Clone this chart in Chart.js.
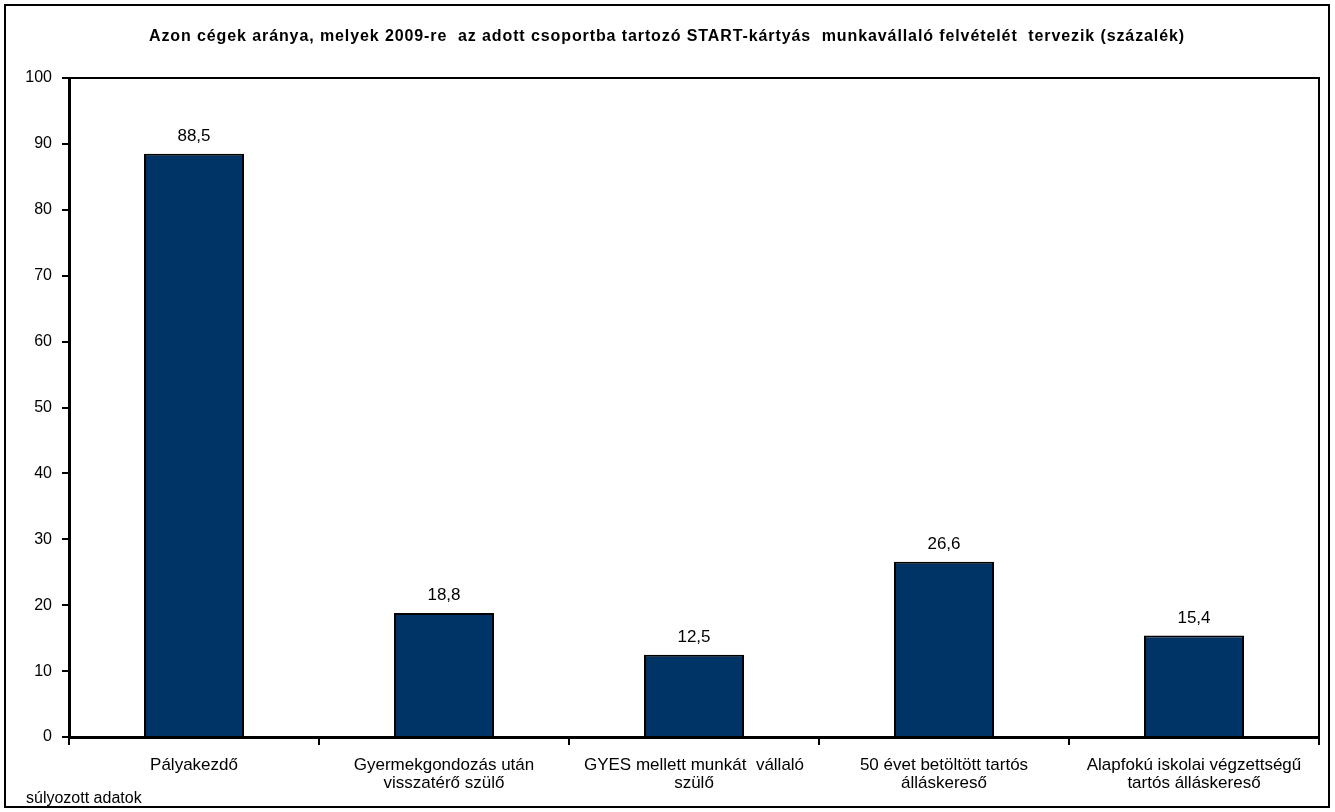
<html>
<head>
<meta charset="utf-8">
<style>
  html, body { margin: 0; padding: 0; background: #fff; }
  #wrap { width: 1335px; height: 812px; position: relative; }
</style>
</head>
<body>
<div id="wrap"><canvas id="myChart" width="1335" height="812"></canvas></div>
<script src="https://cdn.jsdelivr.net/npm/chart.js@4.4.1/dist/chart.umd.min.js"></script>
<script>
    const categories = [
        'Pályakezdő',
        ['Gyermekgondozás után', 'visszatérő szülő'],
        ['GYES mellett munkát  vállaló', 'szülő'],
        ['50 évet betöltött tartós', 'álláskereső'],
        ['Alapfokú iskolai végzettségű', 'tartós álláskereső']
    ];
    const values = [88.5, 18.8, 12.5, 26.6, 15.4];
    const yTicks = [0, 10, 20, 30, 40, 50, 60, 70, 80, 90, 100];

    const titleText = 'Azon cégek aránya, melyek 2009-re  az adott csoportba tartozó START-kártyás  munkavállaló felvételét  tervezik (százalék)';
    const footnote = 'súlyozott adatok';
    const fontName = '"Liberation Sans", Arial, sans-serif';

    // frame, title, plot border, value labels, footnote
    const extras = {
        id: 'extras',
        beforeDraw(chart) {
            const ctx = chart.ctx;
            ctx.save();
            ctx.fillStyle = '#fff';
            ctx.fillRect(0, 0, chart.width, chart.height);
            ctx.strokeStyle = '#000';
            ctx.lineWidth = 2;
            ctx.strokeRect(5, 5, 1324, 802);

            ctx.fillStyle = '#000';
            ctx.font = 'bold 16px ' + fontName;
            ctx.letterSpacing = '0.9px';
            ctx.textAlign = 'center';
            ctx.textBaseline = 'middle';
            ctx.fillText(titleText, 667, 37);
            ctx.restore();
        },
        afterDatasetsDraw(chart) {
            const ctx = chart.ctx;
            const a = chart.chartArea;
            ctx.save();
            ctx.strokeStyle = '#000';
            ctx.lineWidth = 2;
            ctx.beginPath();
            ctx.moveTo(a.left, a.top);
            ctx.lineTo(a.right, a.top);
            ctx.lineTo(a.right, a.bottom);
            ctx.stroke();

            ctx.fillStyle = '#000';
            ctx.font = '17px ' + fontName;
            ctx.textAlign = 'center';
            ctx.textBaseline = 'bottom';
            chart.getDatasetMeta(0).data.forEach((bar, i) => {
                ctx.fillText(values[i].toFixed(1).replace('.', ','), bar.x, bar.y - 9);
            });

            ctx.textAlign = 'left';
            ctx.textBaseline = 'middle';
            ctx.font = '16px ' + fontName;
            ctx.fillText(footnote, 26, 799);
            ctx.restore();
        }
    };

    new Chart('myChart', {
        type: 'bar',
        data: {
            labels: categories,
            datasets: [{
                data: values,
                backgroundColor: '#003366',
                borderColor: '#000',
                borderWidth: 2,
                barPercentage: 0.4,
                categoryPercentage: 1.0
            }]
        },
        options: {
            responsive: false,
            animation: false,
            layout: { padding: { left: 10, right: 16, top: 78, bottom: 0 } },
            plugins: {
                legend: { display: false },
                tooltip: { enabled: false },
                title: { display: false }
            },
            scales: {
                x: {
                    afterFit: (s) => { s.height = 75; },
                    grid: { drawOnChartArea: false, color: '#000', lineWidth: 2, tickLength: 8, offset: true },
                    border: { color: '#000', width: 3 },
                    ticks: {
                        color: '#000',
                        padding: 11,
                        maxRotation: 0,
                        autoSkip: false,
                        font: { family: fontName, size: 17, lineHeight: 1.08 }
                    }
                },
                y: {
                    min: 0,
                    max: 100,
                    afterFit: (s) => { s.width = 59; },
                    afterBuildTicks: (s) => { s.ticks = yTicks.map(v => ({ value: v })); },
                    grid: { drawOnChartArea: false, color: '#000', lineWidth: 2, tickLength: 7 },
                    border: { color: '#000', width: 3 },
                    ticks: {
                        color: '#000',
                        padding: 10,
                        font: { family: fontName, size: 16 }
                    }
                }
            }
        },
        plugins: [extras]
    });
</script>
</body>
</html>
